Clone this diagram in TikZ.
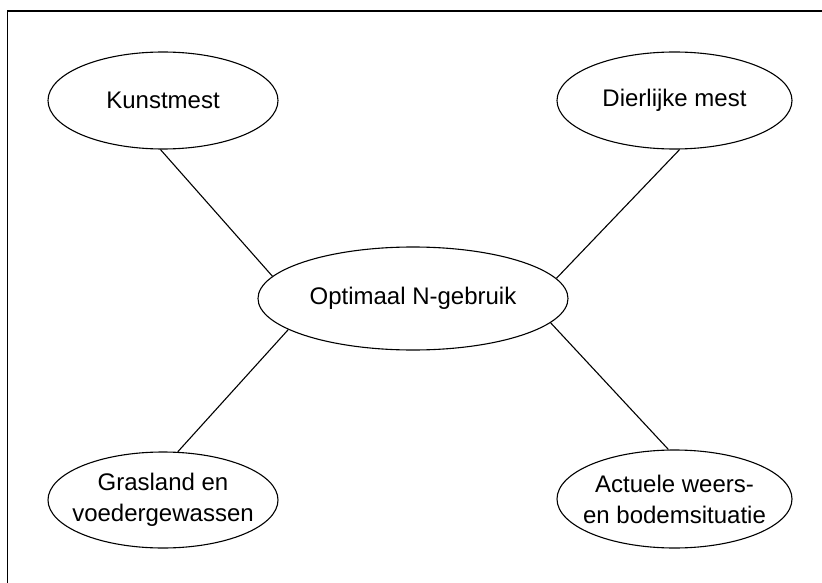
\documentclass[tikz,border=0pt]{standalone}
\usepackage{fontspec}
\setmainfont{Liberation Sans}
\usetikzlibrary{shapes.geometric}
\begin{document}
\begin{tikzpicture}[
  x=1pt,y=-1pt,
  blob/.style={ellipse,draw,line width=1.1pt,inner sep=0pt,minimum height=97pt,
    align=center,font=\fontsize{24}{31}\selectfont},
  conn/.style={line width=1.1pt},
]
  \useasboundingbox (0,0) rectangle (822,583);
  \draw[line width=1.4pt] (822,11) -- (7.5,11) -- (7.5,583);

  \node[blob,minimum width=310pt,minimum height=103pt] (optim) at (413,298.5) {Optimaal N-gebruik};
  \node[blob,minimum width=230pt] (kunst) at (163,100.5) {Kunstmest};
  \node[blob,minimum width=235pt] (dier) at (674.5,100.5) {Dierlijke mest};
  \node[blob,minimum width=230pt,minimum height=96pt,inner xsep=-16pt] (gras) at (163,500) {Grasland en\\voedergewassen};
  \node[blob,minimum width=235pt,minimum height=98pt,inner xsep=-16pt] (weer) at (674.5,499) {Actuele weers-\\en bodemsituatie};

  \draw[conn] (kunst.-93) -- (optim.171);
  \draw[conn] (dier.-84) -- (optim.8.5);
  \draw[conn] (optim.194.7) -- (gras.73.6);
  \draw[conn] (optim.-10.8) -- (weer.97.4);
\end{tikzpicture}
\end{document}
